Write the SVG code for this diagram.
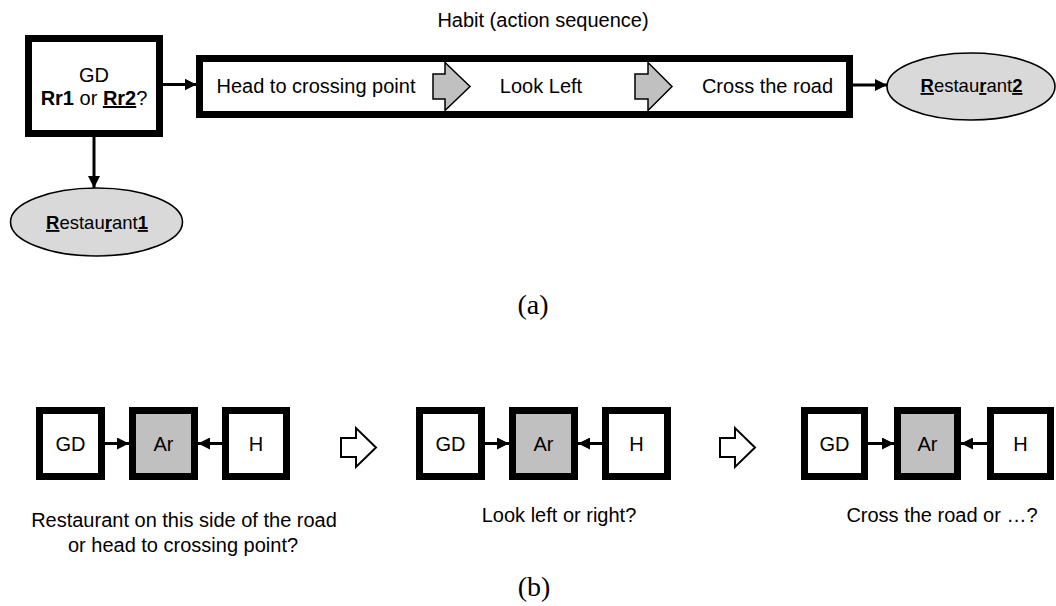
<svg xmlns="http://www.w3.org/2000/svg" width="1056" height="606" viewBox="0 0 1056 606">
<defs>
<marker id="ah" markerUnits="userSpaceOnUse" markerWidth="12" markerHeight="12" refX="12" refY="6" orient="auto">
<path d="M0,0 L12,6 L0,12 z" fill="#000"/>
</marker>
<style>
text{font-family:"Liberation Sans",Arial,sans-serif;font-size:20px;fill:#000}
.c{text-anchor:middle}
.b{font-weight:bold}
.u{text-decoration:underline}
.cap{font-family:"Liberation Serif","Times New Roman",serif;font-size:28px}
.thick{fill:#fff;stroke:#000;stroke-width:7}
.grey{fill:#c0c0c0;stroke:#000;stroke-width:7}
.ell{fill:#d9d9d9;stroke:#000;stroke-width:1.6}
.conn{stroke:#000;stroke-width:3;fill:none;marker-end:url(#ah)}
.step{fill:#c0c0c0;stroke:#000;stroke-width:1.5}
.hollow{fill:#fff;stroke:#000;stroke-width:2}
.lbl{font-size:18.5px}
</style>
</defs>
<rect width="1056" height="606" fill="#fff"/>

<text class="c" x="543" y="27">Habit (action sequence)</text>

<g id="node-gd">
<rect class="thick" x="28.5" y="38.5" width="131" height="95"/>
<text class="c" x="94" y="82">GD</text>
<text class="c" x="94" y="105"><tspan class="b">Rr1</tspan> or <tspan class="b u">Rr2</tspan>?</text>
</g>

<g id="node-habit">
<rect class="thick" x="199.5" y="58.5" width="650" height="56"/>
<text class="c" x="316" y="93">Head to crossing point</text>
<polygon class="step" points="433,74 445,74 445,62.5 470,86.5 445,110.5 445,99 433,99"/>
<text class="c" x="541" y="93">Look Left</text>
<polygon class="step" points="635,74 648,74 648,62.5 672,86.5 648,110.5 648,99 635,99"/>
<text class="c" x="767.5" y="93">Cross the road</text>
</g>

<g id="node-r2">
<ellipse class="ell" cx="971" cy="86.5" rx="84" ry="33.5"/>
<text class="c lbl" x="971.5" y="92"><tspan class="b u">R</tspan>estau<tspan class="b u">r</tspan>ant<tspan class="b u">2</tspan></text>
</g>

<g id="node-r1">
<ellipse class="ell" cx="96.5" cy="222" rx="86" ry="34"/>
<text class="c lbl" x="97" y="229"><tspan class="b u">R</tspan>estau<tspan class="b u">r</tspan>ant<tspan class="b u">1</tspan></text>
</g>

<g id="connectors">
<line class="conn" x1="163" y1="84.5" x2="196.5" y2="84.5"/>
<line class="conn" x1="853" y1="85" x2="887" y2="85"/>
<line class="conn" x1="94" y1="137" x2="94" y2="188"/>
<line class="conn" x1="105" y1="443.5" x2="129" y2="443.5"/>
<line class="conn" x1="222" y1="443.5" x2="198" y2="443.5"/>
<line class="conn" x1="485" y1="443.5" x2="509" y2="443.5"/>
<line class="conn" x1="602" y1="443.5" x2="578" y2="443.5"/>
<line class="conn" x1="868" y1="443.5" x2="894" y2="443.5"/>
<line class="conn" x1="987" y1="443.5" x2="961" y2="443.5"/>
</g>

<text class="cap c" x="533" y="314">(a)</text>

<g id="stage1">
<g id="s1-gd"><rect class="thick" x="39.5" y="410.5" width="62" height="66"/><text class="c" x="70.5" y="450.5">GD</text></g>
<g id="s1-ar"><rect class="grey" x="132.5" y="410.5" width="62" height="66"/><text class="c" x="163.5" y="450.5">Ar</text></g>
<g id="s1-h"><rect class="thick" x="225.5" y="410.5" width="61" height="66"/><text class="c" x="256" y="450.5">H</text></g>
<text class="c" x="184" y="527">Restaurant on this side of the road</text>
<text class="c" x="183" y="552">or head to crossing point?</text>
</g>

<polygon class="hollow" points="341,438 356,438 356,428 376,447.5 356,467 356,457 341,457"/>

<g id="stage2">
<g id="s2-gd"><rect class="thick" x="419.5" y="410.5" width="62" height="66"/><text class="c" x="450.5" y="450.5">GD</text></g>
<g id="s2-ar"><rect class="grey" x="512.5" y="410.5" width="62" height="66"/><text class="c" x="543.5" y="450.5">Ar</text></g>
<g id="s2-h"><rect class="thick" x="605.5" y="410.5" width="62" height="66"/><text class="c" x="636.5" y="450.5">H</text></g>
<text class="c" x="559" y="522">Look left or right?</text>
</g>

<polygon class="hollow" points="720,438 735,438 735,428 755,447.5 735,467 735,457 720,457"/>

<g id="stage3">
<g id="s3-gd"><rect class="thick" x="804.5" y="410.5" width="60" height="66"/><text class="c" x="834.5" y="450.5">GD</text></g>
<g id="s3-ar"><rect class="grey" x="897.5" y="410.5" width="60" height="66"/><text class="c" x="927.5" y="450.5">Ar</text></g>
<g id="s3-h"><rect class="thick" x="990.5" y="410.5" width="60" height="66"/><text class="c" x="1020.5" y="450.5">H</text></g>
<text class="c" x="942" y="522">Cross the road or …?</text>
</g>

<text class="cap c" x="534" y="596">(b)</text>
</svg>
